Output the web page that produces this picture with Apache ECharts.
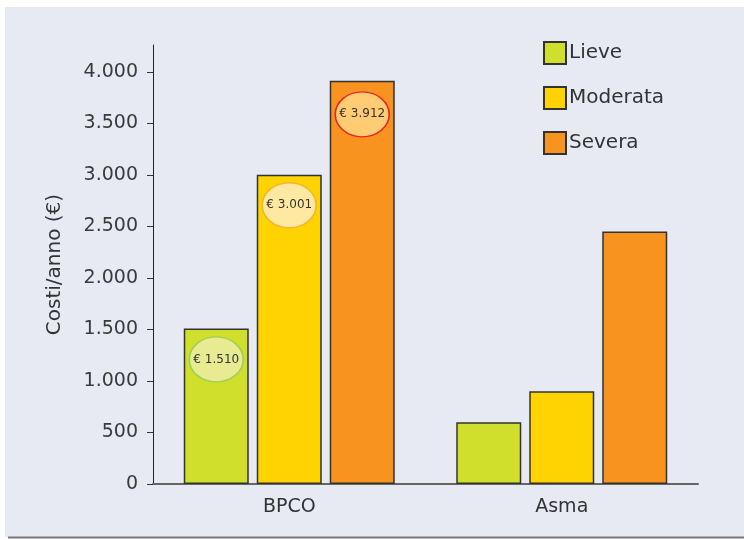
<!DOCTYPE html>
<html>
<head>
<meta charset="utf-8">
<script src="https://cdn.jsdelivr.net/npm/echarts@6/dist/echarts.min.js"></script>
<style>
html,body{margin:0;padding:0;background:#fff;}
#c{width:744px;height:540px;}
</style>
</head>
<body>
<div id="c"></div>
<script>
var categories = ['BPCO', 'Asma'];
var seriesNames = ['Lieve', 'Moderata', 'Severa'];
var lieve = [1510, 600];
var moderata = [3001, 900];
var severa = [3912, 2450];
var yTicks = [0, 500, 1000, 1500, 2000, 2500, 3000, 3500, 4000];
// callout values shown in ellipses (BPCO only)
var calloutLieve = [1510, '-'];
var calloutModerata = [3001, '-'];
var calloutSevera = [3912, '-'];

function fmt(v) {
  return String(v).replace(/\B(?=(\d{3})+(?!\d))/g, '.');
}

var FONT = 'DejaVu Sans';
var barColors = ['#cfdf2c', '#ffd300', '#f7931e'];
var ellFill = ['#e8eb92', '#ffe8a0', '#ffcc73'];
var ellBorder = ['#9ccf5a', '#f5b335', '#e8262a'];
var dx = [-73, 0, 73];
var dy = [31, 30.5, 33.5];
var barData = [lieve, moderata, severa];
var calloutData = [calloutLieve, calloutModerata, calloutSevera];

var series = [];
for (var i = 0; i < 3; i++) {
  series.push({
    name: seriesNames[i],
    type: 'bar',
    data: barData[i],
    barWidth: 65,
    barGap: '12.3%',
    itemStyle: { color: barColors[i], borderColor: '#333', borderWidth: 1.5 },
    emphasis: { disabled: true },
    z: 2
  });
}
for (var j = 0; j < 3; j++) {
  series.push({
    name: 'callout' + j,
    type: 'scatter',
    data: calloutData[j],
    symbol: 'circle',
    symbolSize: [54, 45],
    symbolOffset: [dx[j], dy[j]],
    itemStyle: { color: ellFill[j], borderColor: ellBorder[j], borderWidth: 1.5, opacity: 1 },
    label: {
      show: true,
      position: 'inside',
      formatter: function (p) { return '€ ' + fmt(p.value); },
      fontFamily: FONT,
      fontSize: 12,
      color: '#333'
    },
    emphasis: { disabled: true },
    z: 5
  });
}

var chart = echarts.init(document.getElementById('c'), null, { renderer: 'canvas' });
chart.setOption({
  animation: false,
  backgroundColor: '#ffffff',
  graphic: [
    { type: 'rect', z: -10, shape: { x: 5, y: 7, width: 739, height: 530 }, style: { fill: '#e7eaf3' } },
    { type: 'line', z: -9, shape: { x1: 8, y1: 537.5, x2: 744, y2: 537.5 }, style: { stroke: '#777', lineWidth: 2 } }
  ],
  grid: { left: 153, right: 46, top: 45, bottom: 56, containLabel: false },
  legend: {
    data: seriesNames,
    orient: 'vertical',
    left: 543,
    top: 41,
    padding: 0,
    itemWidth: 22,
    itemHeight: 22,
    itemGap: 21,
    icon: 'rect',
    textStyle: { fontFamily: FONT, fontSize: 20, color: '#333', lineHeight: 22, padding: [0, 0, 0, -2] }
  },
  xAxis: {
    type: 'category',
    data: categories,
    axisLine: { lineStyle: { color: '#666', width: 2 } },
    axisTick: { show: false },
    axisLabel: { fontFamily: FONT, fontSize: 19, color: '#333', margin: 14 },
    splitLine: { show: false }
  },
  yAxis: {
    type: 'value',
    min: 0,
    max: 4260,
    interval: 500,
    name: 'Costi/anno (€)',
    nameLocation: 'middle',
    nameGap: 88,
    nameTextStyle: { fontFamily: FONT, fontSize: 20, color: '#333' },
    axisLine: { show: true, lineStyle: { color: '#222', width: 1 } },
    axisTick: { show: true, length: 6, lineStyle: { color: '#333' }, customValues: yTicks },
    axisLabel: {
      fontFamily: FONT, fontSize: 19, color: '#3a3a3a', margin: 15,
      customValues: yTicks,
      formatter: function (v) { return fmt(v); }
    },
    splitLine: { show: false }
  },
  series: series
});
</script>
</body>
</html>
